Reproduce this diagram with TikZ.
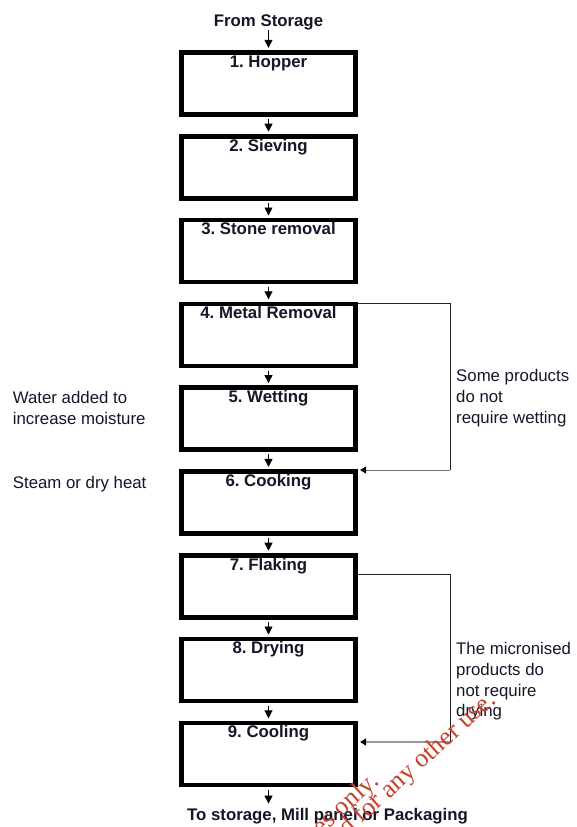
\documentclass[tikz,border=0pt]{standalone}
\usepackage{fontspec}
\setmainfont{Liberation Sans}
\newfontfamily\wmfont{Liberation Serif}
\usetikzlibrary{arrows.meta}
\definecolor{wmred}{HTML}{C8402A}
\definecolor{ink}{HTML}{16162A}
\frenchspacing
\begin{document}
\begin{tikzpicture}[x=1pt,y=-1pt,
  stepbox/.style={draw=black, line width=4.6pt, minimum width=174pt, minimum height=62pt, inner sep=0pt},
  steplabel/.style={font=\fontsize{16.8}{20}\selectfont\bfseries, text=ink, anchor=base, inner sep=0pt},
  note/.style={font=\fontsize{16.8}{20.7}\selectfont, text=ink, align=left, inner sep=0pt, anchor=base west},
  flow/.style={line width=0.9pt, -{Triangle[width=8pt,length=8pt]}, shorten >=2.3pt},
  bypass/.style={line width=0.8pt, draw=black!85},
  bypassin/.style={-{Triangle[width=7pt,length=6pt,fill=black,color=black]}, shorten >=2.3pt},
  wm/.style={font=\wmfont\fontsize{26}{26}\selectfont, text=wmred, rotate=42, inner sep=0pt, anchor=base east}]
\useasboundingbox (0,0) rectangle (576,827);
\fill[white] (0,0) rectangle (576,827);

% process steps
\node[stepbox] (b1) at (268.5,83.5) {};
\node[stepbox] (b2) at (268.5,167.3) {};
\node[stepbox] (b3) at (268.5,251.1) {};
\node[stepbox] (b4) at (268.5,334.9) {};
\node[stepbox] (b5) at (268.5,418.7) {};
\node[stepbox] (b6) at (268.5,502.5) {};
\node[stepbox] (b7) at (268.5,586.3) {};
\node[stepbox] (b8) at (268.5,670.1) {};
\node[stepbox] (b9) at (268.5,753.9) {};

\node[steplabel] (l1) at ([yshift=-17pt]b1.north) {1. Hopper};
\node[steplabel] (l2) at ([yshift=-17pt]b2.north) {2. Sieving};
\node[steplabel] (l3) at ([yshift=-17pt]b3.north) {3. Stone removal};
\node[steplabel] (l4) at ([yshift=-17pt]b4.north) {4. Metal Removal};
\node[steplabel] (l5) at ([yshift=-17pt]b5.north) {5. Wetting};
\node[steplabel] (l6) at ([yshift=-17pt]b6.north) {6. Cooking};
\node[steplabel] (l7) at ([yshift=-17pt]b7.north) {7. Flaking};
\node[steplabel] (l8) at ([yshift=-17pt]b8.north) {8. Drying};
\node[steplabel] (l9) at ([yshift=-17pt]b9.north) {9. Cooling};

% input and output
\node[steplabel] (src) at (268.5,26.7) {From Storage};
\node[steplabel, anchor=base west] (dst) at (187,820) {To storage, Mill panel or Packaging};

% main flow
\draw[flow] (src.south) -- (b1.north);
\draw[flow, shorten <=2.3pt] (b1.south) -- (b2.north);
\draw[flow, shorten <=2.3pt] (b2.south) -- (b3.north);
\draw[flow, shorten <=2.3pt] (b3.south) -- (b4.north);
\draw[flow, shorten <=2.3pt] (b4.south) -- (b5.north);
\draw[flow, shorten <=2.3pt] (b5.south) -- (b6.north);
\draw[flow, shorten <=2.3pt] (b6.south) -- (b7.north);
\draw[flow, shorten <=2.3pt] (b7.south) -- (b8.north);
\draw[flow, shorten <=2.3pt] (b8.south) -- (b9.north);
\draw[flow, shorten <=2.3pt, shorten >=4pt] (b9.south) -- (b9.south |- dst.north);

% bypass: no wetting
\coordinate (k1) at (450,303);
\coordinate (k2) at (450,470);
\draw[bypass] (b4.east |- k1) -- (k1) -- (k2);
\draw[bypassin, line width=1pt, draw=black!55] (k2) -- (b6.east |- k2);

% bypass: no drying
\coordinate (k3) at (450,574);
\coordinate (k4) at (450,742);
\draw[bypass] (b7.east |- k3) -- (k3) -- (k4);
\draw[bypassin, line width=2pt, draw=black!40] (k4) -- (b9.east |- k4);

% side notes (anchored on the baseline of the last line)
\node[note] (n1) at (12.7,424.5) {Water added to\\increase moisture};
\node[note] (n2) at (12.7,488.3) {Steam or dry heat};
\node[note] (n3) at (456,423.2) {Some products\\do not\\require wetting};
\node[note] (n4) at (456,716.8) {The micronised\\products do\\not require\\drying};

% stamp
\begin{scope}
\clip (0,0) rectangle (576,827);
\node[wm] (wm1) at (380,783) {For inspection purposes only.};
\node[wm] (wm2) at (497,702) {Consent of copyright owner required for any other use.};
\end{scope}
\end{tikzpicture}
\end{document}
